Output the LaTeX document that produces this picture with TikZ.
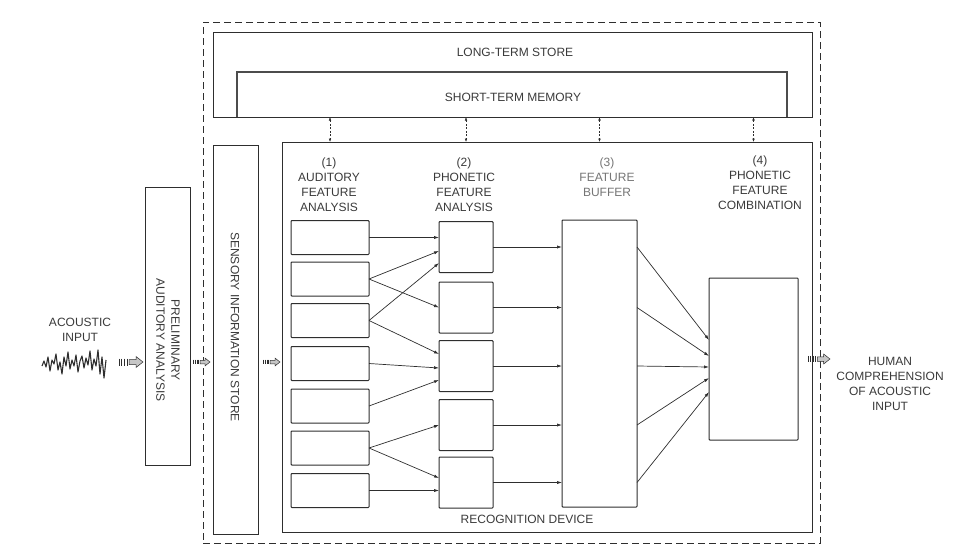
\documentclass[tikz,border=0pt]{standalone}
\usepackage{fontspec}
\setmainfont{Liberation Sans}
\usetikzlibrary{arrows.meta,calc}
\definecolor{ink}{HTML}{2E2E2E}
\definecolor{txt}{HTML}{3A3A3A}
\begin{document}
\begin{tikzpicture}[x=1pt,y=-1pt,
  box/.style={draw=ink, line width=1pt, rounded corners=0.8pt, inner sep=0pt, outer sep=0pt},
  frame/.style={draw=ink, line width=1pt, inner sep=0pt, outer sep=0pt},
  lbl/.style={text=txt, font=\fontsize{12}{15}\selectfont, align=center, inner sep=0pt},
  link/.style={draw=ink, line width=0.7pt, -{Latex[length=5pt,width=3.2pt]}},
  memlink/.style={draw=ink, line width=0.5pt, dash pattern=on 2pt off 1.5pt,
    {Latex[length=3.5pt,width=2.6pt]}-{Latex[length=3.5pt,width=2.6pt]}},
  feed/.pic={
    \foreach \i in {0,...,3}
      \draw[ink, line width=0.6pt] (-24+\i*2.6,-3.5) -- (-24+\i*2.6,3.5);
    \draw[ink, fill=gray!45, line width=0.5pt, line join=miter]
      (-14,-2.5) -- (-7,-2.5) -- (-7,-5.5) -- (0,0) -- (-7,5.5) -- (-7,2.5) -- (-14,2.5) -- cycle;
  }
]
\useasboundingbox (0,0) rectangle (957,552);

% dashed enclosure of the listener
\node[draw=ink, line width=0.8pt, dash pattern=on 7pt off 4pt, inner sep=0pt,
      minimum width=617pt, minimum height=521pt] (outer) at (511.5,282.5) {};

% memory stores
\node[frame, minimum width=599pt, minimum height=85pt] (lts) at (512.5,74.5) {};
\node[inner sep=0pt, outer sep=0pt, minimum width=550pt, minimum height=45pt] (stm) at (512,94.5) {};
\draw[gray!60!black, line width=2.6pt, line join=miter]
  (stm.south west) -- (stm.north west) -- (stm.north east) -- (stm.south east);
\draw[ink, line width=1pt] (lts.south west) -- (lts.south east);
\node[lbl] (ltslabel) at (515,52) {LONG-TERM STORE};
\node[lbl] (stmlabel) at (513,97) {SHORT-TERM MEMORY};

% recognition device and the stores before it
\node[frame, minimum width=530pt, minimum height=390pt] (rec) at (547,337) {};
\node[lbl] (reclabel) at (527,519) {RECOGNITION DEVICE};
\node[frame, minimum width=45pt, minimum height=389pt] (sis) at (235.5,339.5) {};
\node[lbl, rotate=-90] (sislabel) at (235,327) {SENSORY INFORMATION STORE};
\node[frame, minimum width=45pt, minimum height=278pt] (pre) at (167.5,326) {};
\node[lbl, rotate=-90] (prelabel) at (168,340) {PRELIMINARY\\AUDITORY ANALYSIS};

% acoustic input
\node[lbl] (inlabel) at (80,330) {ACOUSTIC\\INPUT};
\draw[ink, line width=1.1pt, line join=round]
  (42,366) -- (44,361) -- (46,367) -- (48,357) -- (50,371) -- (52,360) -- (54,364)
  -- (56,354) -- (58,370) -- (60,362) -- (62,374) -- (64,357) -- (66,366) -- (68,352)
  -- (70,369) -- (72,360) -- (74,366) -- (76,355) -- (78,372) -- (80,361) -- (82,356)
  -- (84,368) -- (86,358) -- (88,365) -- (90,351) -- (92,370) -- (94,359) -- (96,366)
  -- (98,350) -- (100,374) -- (102,357) -- (104,378) -- (106,360);

% output
\node[lbl] (outlabel) at (890,384) {HUMAN\\COMPREHENSION\\OF ACOUSTIC\\INPUT};

% column headings
\node[lbl] (h1) at (329,185) {(1)\\AUDITORY\\FEATURE\\ANALYSIS};
\node[lbl] (h2) at (464,185) {(2)\\PHONETIC\\FEATURE\\ANALYSIS};
\node[lbl, text=txt!70] (h3) at (607,177) {(3)\\FEATURE\\BUFFER};
\node[lbl] (h4) at (760,183) {(4)\\PHONETIC\\FEATURE\\COMBINATION};

% auditory feature analysers
\foreach \n/\y in {1/237.5, 2/279, 3/320.5, 4/363.5, 5/406, 6/448, 7/490.5}
  \node[box, minimum width=78pt, minimum height=34pt] (a\n) at (330,\y) {};

% phonetic feature analysers
\foreach \n/\y in {1/247, 2/307.5, 3/366, 4/425, 5/482.5}
  \node[box, minimum width=54pt, minimum height=51pt] (p\n) at (466,\y) {};

% feature buffer and combination
\node[box, minimum width=75pt, minimum height=287pt] (buf) at (599.5,363.5) {};
\node[box, minimum width=89pt, minimum height=162pt] (comb) at (753.5,359) {};

% auditory -> phonetic
\draw[link] (a1.east) -- (a1.east -| p1.west);
\draw[link] (a2.east) -- ($(p1.west)+(0,4)$);
\draw[link] (a2.east) -- (p2.west);
\draw[link] (a3.east) -- ($(p1.west)+(0,16)$);
\draw[link] (a3.east) -- ($(p3.west)+(0,-12)$);
\draw[link] (a4.east) -- ($(p3.west)+(0,2)$);
\draw[link] (a5.east) -- ($(p3.west)+(0,14)$);
\draw[link] (a6.east) -- (p4.west);
\draw[link] (a6.east) -- ($(p5.west)+(0,-4.5)$);
\draw[link] (a7.east) -- (a7.east -| p5.west);

% phonetic -> buffer
\foreach \n in {1,...,5}
  \draw[link] (p\n.east) -- (p\n.east -| buf.west);

% buffer -> combination
\foreach \n/\d in {1/-19, 2/-3, 3/8, 4/19, 5/33}
  \draw[link] (buf.east |- p\n.east) -- ($(comb.west)+(0,\d)$);

% exchanges with short-term memory
\draw[memlink] (stm.south -| a1) -- (rec.north -| a1);
\draw[memlink] (stm.south -| p1) -- (rec.north -| p1);
\draw[memlink] (stm.south -| buf) -- (rec.north -| buf);
\draw[memlink] (stm.south -| comb) -- (rec.north -| comb);

% signal flow between stages
\coordinate (f1) at (143,362);
\coordinate (f2) at (210,362);
\coordinate (f3) at (280,362);
\coordinate (f4) at (830,359);
\pic at (f1) {feed};
\pic[scale=0.7] at (f2) {feed};
\pic[scale=0.7] at (f3) {feed};
\pic[scale=0.9] at (f4) {feed};
\end{tikzpicture}
\end{document}
